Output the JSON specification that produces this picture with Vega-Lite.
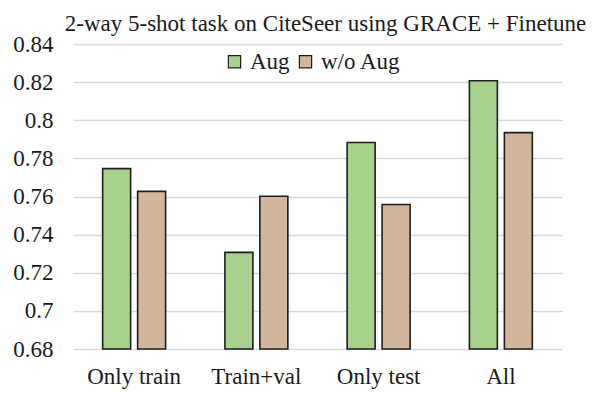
{
  "$schema": "https://vega.github.io/schema/vega-lite/v6.json",
  "autosize": "none",
  "width": 489,
  "height": 305,
  "padding": {"left": 73, "top": 44, "right": 36, "bottom": 47},
  "background": "white",
  "title": {
    "text": "2-way 5-shot task on CiteSeer using GRACE + Finetune",
    "font": "Liberation Serif",
    "fontSize": 23,
    "fontWeight": "normal",
    "color": "#1a1a1a",
    "anchor": "middle",
    "dx": 8,
    "dy": 3,
    "offset": 0
  },
  "data": {
    "values": [
      {"split": "Only train", "group": "Aug", "value": 0.7746},
      {"split": "Only train", "group": "w/o Aug", "value": 0.7627},
      {"split": "Train+val", "group": "Aug", "value": 0.7307},
      {"split": "Train+val", "group": "w/o Aug", "value": 0.7601},
      {"split": "Only test", "group": "Aug", "value": 0.7883},
      {"split": "Only test", "group": "w/o Aug", "value": 0.7558},
      {"split": "All", "group": "Aug", "value": 0.8207},
      {"split": "All", "group": "w/o Aug", "value": 0.7935}
    ]
  },
  "mark": {"type": "bar", "stroke": "#1e1e1e", "strokeWidth": 1.6},
  "encoding": {
    "x": {
      "field": "split",
      "type": "nominal",
      "sort": ["Only train", "Train+val", "Only test", "All"],
      "scale": {"paddingInner": 0.485, "paddingOuter": 0.2425},
      "axis": {
        "title": null,
        "labelAngle": 0,
        "labelFont": "Liberation Serif",
        "labelFontSize": 23,
        "labelColor": "#1a1a1a",
        "labelPadding": 16,
        "domain": false,
        "ticks": false
      }
    },
    "xOffset": {
      "field": "group",
      "type": "nominal",
      "scale": {"paddingInner": 0.2, "paddingOuter": 0}
    },
    "y": {
      "field": "value",
      "type": "quantitative",
      "scale": {"domain": [0.68, 0.84], "zero": false, "nice": false},
      "axis": {
        "title": null,
        "values": [0.68, 0.7, 0.72, 0.74, 0.76, 0.78, 0.8, 0.82, 0.84],
        "format": "~g",
        "labelFont": "Liberation Serif",
        "labelFontSize": 23,
        "labelColor": "#1a1a1a",
        "labelPadding": 20,
        "domain": false,
        "ticks": false,
        "grid": true,
        "gridColor": "#d9d9d9",
        "gridWidth": 1.5
      }
    },
    "y2": {"datum": 0.68},
    "color": {
      "field": "group",
      "type": "nominal",
      "scale": {"domain": ["Aug", "w/o Aug"], "range": ["#a9d18e", "#d1b59c"]},
      "legend": {
        "title": null,
        "orient": "none",
        "direction": "horizontal",
        "legendX": 150,
        "legendY": 6,
        "symbolType": "square",
        "symbolSize": 150,
        "symbolStrokeColor": "#1e1e1e",
        "symbolStrokeWidth": 1.2,
        "symbolOpacity": 1,
        "labelFont": "Liberation Serif",
        "labelFontSize": 23,
        "labelColor": "#1a1a1a",
        "labelOffset": 4,
        "columnPadding": 4
      }
    }
  },
  "config": {
    "view": {"stroke": null}
  }
}
